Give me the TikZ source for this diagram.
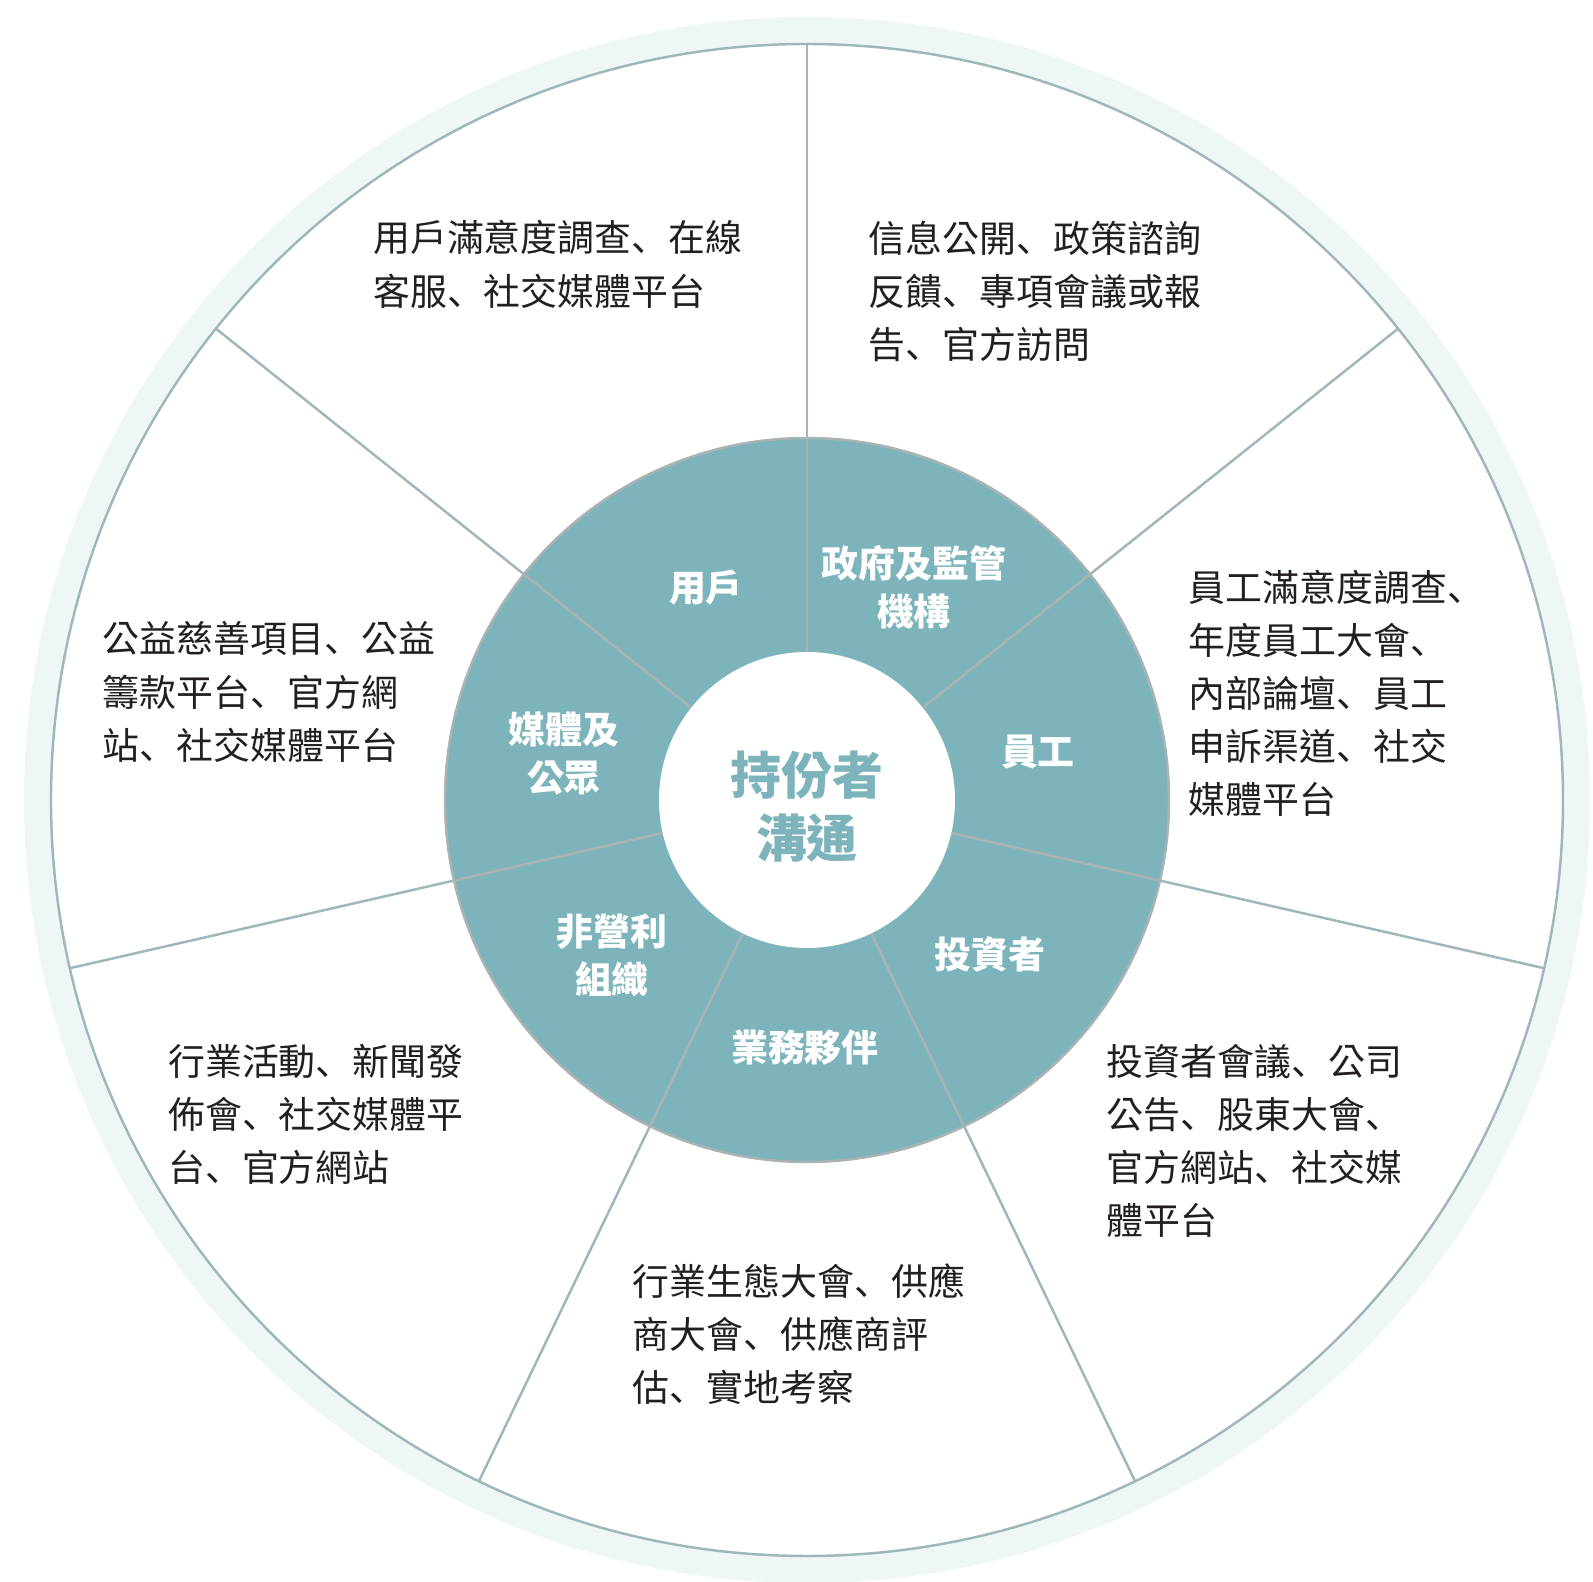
\documentclass[tikz,border=0pt]{standalone}
\usepackage{fontspec}
\newfontfamily\cjk{Noto Sans CJK TC}
\newfontfamily\cjksc{Noto Sans CJK SC}
\newcommand\dun{{\cjksc 、}}
\definecolor{teal1}{HTML}{7DB4BC}
\definecolor{rim}{HTML}{EFF6F6}
\definecolor{rimline}{HTML}{9FB7BA}
\definecolor{tealline}{HTML}{A9B3B3}
\definecolor{ink}{HTML}{231F20}

\begin{document}
\begin{tikzpicture}[x=0.01cm,y=0.01cm,
		outtext/.style={anchor=west,align=left,inner sep=0pt,text=ink,font=\cjk\fontsize{10.5}{15.1}\selectfont},
		group/.style={align=center,inner sep=0pt,text=white,font=\cjk\bfseries\fontsize{10.5}{13.7}\selectfont},
		hubtext/.style={align=center,inner sep=0pt,text=teal1,font=\cjk\bfseries\fontsize{14.5}{17.9}\selectfont},
		divider/.style={rimline,line width=0.7pt}]
		\useasboundingbox (-807,-782) rectangle (786,800);
		\fill[rim] (0,0) circle (783);
		\draw[divider,fill=white] (0,0) circle (756);
		\foreach \a in {0,...,6}
			\draw[divider] (90-\a*360/7:362) -- (90-\a*360/7:756);
		\draw[tealline,line width=0.7pt,fill=teal1] (0,0) circle (362);
		\foreach \a in {0,...,6}
			\draw[tealline,line width=0.7pt] (90-\a*360/7:148) -- (90-\a*360/7:362);
		\fill[white] (0,0) circle (148);
		\node[hubtext] (hub) at (0,-6.5) {持份者\\溝通};
		\node[group] (users) at (-101,212) {用戶};
		\node[group] (gov) at (107,212.5) {政府及監管\\機構};
		\node[group] (staff) at (231,48) {員工};
		\node[group] (investors) at (183,-154) {投資者};
		\node[group] (partners) at (-2,-247.5) {業務夥伴};
		\node[group] (npo) at (-195,-155) {非營利\\組織};
		\node[group] (media) at (-243,46.5) {媒體及\\公眾};
		\node[outtext] (usersch) at (-434.5,535.6) {用戶滿意度調查\dun 在線\\客服\dun 社交媒體平台};
		\node[outtext] (govch) at (61,508.7) {信息公開\dun 政策諮詢\\反饋\dun 專項會議或報\\告\dun 官方訪問};
		\node[outtext] (staffch) at (381,106.5) {員工滿意度調查\dun\\年度員工大會\dun\\內部論壇\dun 員工\\申訴渠道\dun 社交\\媒體平台};
		\node[outtext] (investorsch) at (299,-341) {投資者會議\dun 公司\\公告\dun 股東大會\dun\\官方網站\dun 社交媒\\體平台};
		\node[outtext] (partnersch) at (-175,-534) {行業生態大會\dun 供應\\商大會\dun 供應商評\\估\dun 實地考察};
		\node[outtext] (npoch) at (-639.5,-314.5) {行業活動\dun 新聞發\\佈會\dun 社交媒體平\\台\dun 官方網站};
		\node[outtext] (mediach) at (-705,108) {公益慈善項目\dun 公益\\籌款平台\dun 官方網\\站\dun 社交媒體平台};
	\end{tikzpicture}
\end{document}
